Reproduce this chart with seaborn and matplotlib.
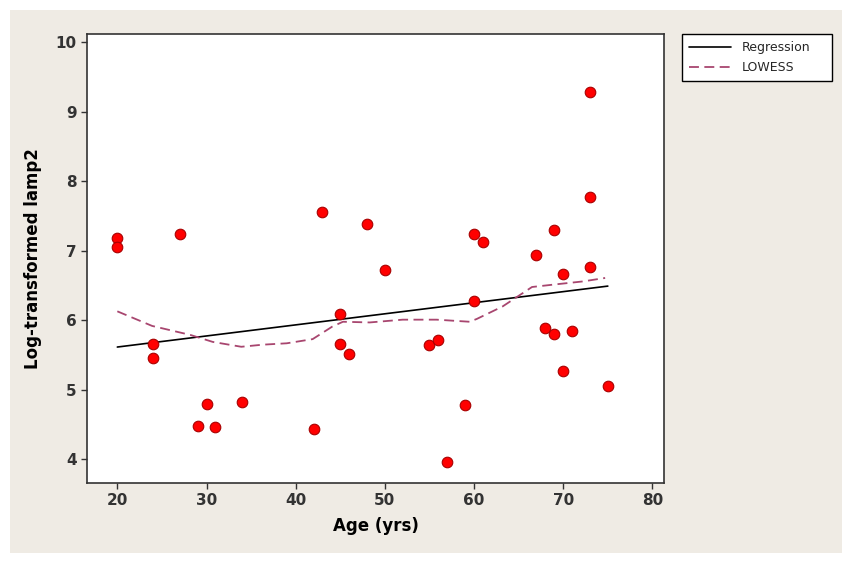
import matplotlib
matplotlib.use("Agg")
import matplotlib.pyplot as plt
from matplotlib.patches import Rectangle
import seaborn as sns
import pandas as pd

# ---- data ----
age = [20, 20, 24, 24, 27, 29, 30, 31, 34, 42, 43, 45, 45, 46, 48, 50, 55, 56, 57,
       59, 60, 60, 61, 67, 68, 69, 69, 70, 70, 71, 73, 73, 73, 75]
lamp2 = [7.18, 7.06, 5.66, 5.46, 7.24, 4.48, 4.80, 4.46, 4.82, 4.44, 7.56, 6.09, 5.66,
         5.51, 7.39, 6.73, 5.64, 5.72, 3.96, 4.78, 7.24, 6.28, 7.13, 6.94, 5.89, 7.30,
         5.80, 6.67, 5.27, 5.85, 7.78, 6.77, 9.29, 5.06]

lowess_age = [20, 23.9, 28.2, 30.7, 33.9, 36.3, 39.0, 41.9, 44.1, 45.3, 48.3, 52.0,
              55.8, 59.5, 60.3, 63.2, 66.5, 69.3, 72.2, 74.7]
lowess_fit = [6.13, 5.92, 5.79, 5.69, 5.62, 5.65, 5.67, 5.73, 5.91, 5.98, 5.97, 6.01,
              6.01, 5.98, 6.02, 6.20, 6.48, 6.52, 6.56, 6.61]

x_ticks = [20, 30, 40, 50, 60, 70, 80]
y_ticks = [4, 5, 6, 7, 8, 9, 10]

df = pd.DataFrame({"age": age, "lamp2": lamp2})
lw = pd.DataFrame({"age": lowess_age, "fit": lowess_fit})

sns.set_style("ticks")
plt.rcParams["font.family"] = ["DejaVu Sans"]

fig = plt.figure(figsize=(8.5, 5.63), dpi=100, facecolor="white")
fig.patches.append(Rectangle((10 / 850, 10 / 563), 832 / 850, 543 / 563,
                             transform=fig.transFigure, facecolor="#EFEBE4",
                             edgecolor="none", zorder=-10))
ax = fig.add_axes([87 / 850, 1 - 483 / 563, (664 - 87) / 850, (483 - 34) / 563])
ax.set_zorder(1)
ax.set_facecolor("white")

sns.regplot(data=df, x="age", y="lamp2", scatter=False, ci=None, truncate=True,
            line_kws=dict(color="black", lw=1.2), ax=ax, label="Regression")
sns.lineplot(data=lw, x="age", y="fit", ax=ax, color="#A8466F", lw=1.3,
             label="LOWESS", sort=False)
ax.lines[-1].set_dashes([5.5, 3])
sns.scatterplot(data=df, x="age", y="lamp2", ax=ax, color="#FF0000",
                edgecolor="#A80000", linewidth=0.8, s=58, zorder=5, legend=False)

ax.set_xlim(16.6, 81.3)
ax.set_ylim(3.66, 10.12)
ax.set_xticks(x_ticks)
ax.set_yticks(y_ticks)
ax.tick_params(axis="both", labelsize=11, colors="#333333", length=4, width=1)
for lab in ax.get_xticklabels() + ax.get_yticklabels():
    lab.set_fontweight("bold")
for sp in ax.spines.values():
    sp.set_visible(True)
    sp.set_color("#333333")
    sp.set_linewidth(1.2)

ax.set_xlabel("Age (yrs)", fontsize=12, fontweight="bold", color="black", labelpad=6)
ax.set_ylabel("Log-transformed lamp2", fontsize=12, fontweight="bold", color="black",
              labelpad=10)

leg = ax.legend(loc="upper left",
                bbox_to_anchor=(682 / 850, 1 - 84 / 563, 150 / 850, 50 / 563),
                bbox_transform=fig.transFigure, mode="expand", borderaxespad=0,
                fontsize=9, frameon=True, fancybox=False, framealpha=1,
                edgecolor="black", borderpad=0.55, handlelength=3.4,
                handletextpad=0.8, labelspacing=0.6, alignment="left")
leg.get_frame().set_linewidth(1.0)

fig.savefig("out.png", dpi=100, facecolor="white")
